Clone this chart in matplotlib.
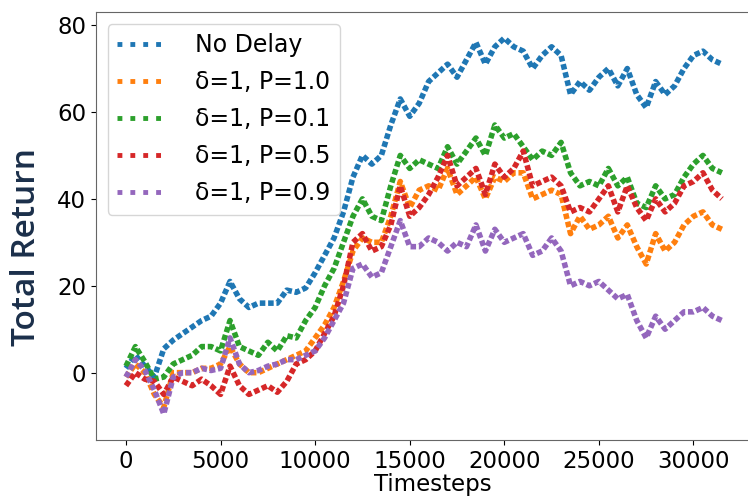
"""
Total return vs timesteps for delayed / stochastic-delay variants
"""

import matplotlib.pyplot as plt
from matplotlib.lines import Line2D
import numpy as np

# timesteps sampled every 500 steps
timesteps = np.arange(0, 32000, 500)

no_delay = [1, 4, 1.5, -1, 5.5, 7.5, 9, 10.5, 12, 13, 16, 21, 17, 15, 16, 16,
            16, 19, 18.5, 19.5, 23, 27, 31, 37, 45, 50, 48, 50, 57, 63, 59, 62,
            67, 69, 71, 68, 72, 76, 71, 75, 77, 75, 74, 70, 73, 75, 73, 64,
            67, 65, 68, 70, 66, 70, 64, 61, 67, 64, 66, 70, 73, 74, 72, 71]
p10 = [-1, 2, 0, -5, -8, 0, 0, 0, 1, 1, 2, 6, 2, 0, 0, 1,
       2, 3, 4, 5, 8, 11, 15, 21, 28, 31, 30, 30, 36, 44, 38, 42,
       43, 42, 47, 41, 43, 45, 40, 45, 44, 46, 46, 40, 41, 42, 41, 32,
       36, 33, 34, 36, 31, 34, 29, 25, 32, 28, 30, 34, 36, 37, 34, 33]
p01 = [1.5, 6, 2.5, -1.5, -1, 2, 3, 4, 6, 6, 5, 12, 6, 5, 4, 7,
       5, 8.5, 8, 12, 15, 20, 24, 30, 36, 40, 36, 35, 43, 50, 47, 49,
       48, 47, 52, 48, 51, 54, 50, 57, 54, 55, 52, 49, 51, 50, 53, 46,
       43, 44, 43, 47, 43, 45, 39, 38, 43, 40, 41, 45, 48, 50, 47, 46]
p05 = [-3, 0, -1.5, -2, -5, -1, -2, -3, -1.5, -3, -5, 1.5, -3, -5, -4, -3,
       -4.5, -2, 2, 3, 5, 9, 13, 20, 30, 32, 28, 29, 34, 43, 36, 38,
       41, 45, 50, 43, 45, 47, 41, 48, 45, 47, 51, 43, 44, 45, 43, 37,
       38, 37, 40, 43, 37, 43, 38, 35, 40, 37, 39, 43, 44, 46, 42, 40]
p09 = [-1, 3, 0.5, -4, -9.5, -1, 0, 0, 1, 0.5, 1, 8, 2, 0, 0.5, 1.5,
       2, 3, 3, 4, 5, 8, 12, 16, 24, 25, 22, 23, 29, 35, 29, 29,
       31, 30, 28, 30, 29, 34, 28, 33, 30, 31, 32, 27, 28, 31, 28, 20,
       21, 20, 21, 19, 17, 18, 12, 8, 13, 10, 12, 14, 14, 15, 13, 12]

labels = ['No Delay', 'δ=1, P=1.0', 'δ=1, P=0.1', 'δ=1, P=0.5', 'δ=1, P=0.9']
series = [no_delay, p10, p01, p05, p09]
colors = ['#1f77b4', '#ff7f0e', '#2ca02c', '#d62728', '#9467bd']

fig = plt.figure(figsize=(7.48, 4.99), dpi=100)
ax = fig.add_axes([0.1283, 0.1182, 0.90, 0.8577])

for ys, c in zip(series, colors):
    ax.plot(timesteps, ys, color=c, linewidth=4, dashes=(1.0, 0.5))

ax.set_xlim(-1585, 34000)
ax.set_ylim(-15.5, 83)
ax.set_xticks([0, 5000, 10000, 15000, 20000, 25000, 30000])
ax.set_yticks([0, 20, 40, 60, 80])
ax.tick_params(labelsize=16.5)
ax.set_xlabel('Timesteps', fontsize=16.5, labelpad=0)
ax.set_ylabel('Total Return', fontsize=24, family='Open Sans',
              fontweight='semibold', color='#1b2f4a')
ax.yaxis.set_label_coords(-0.078, 0.45)
for sp in ax.spines.values():
    sp.set_color('#666666')
ax.spines['right'].set_visible(False)

handles = [Line2D([0], [0], color=c, linewidth=3.5, linestyle=':') for c in colors]
ax.legend(handles, labels, loc='upper left', fontsize=17, handlelength=2.0,
          handletextpad=1.3, labelspacing=0.55, borderaxespad=0.5)

plt.savefig('out.png', dpi=100)
